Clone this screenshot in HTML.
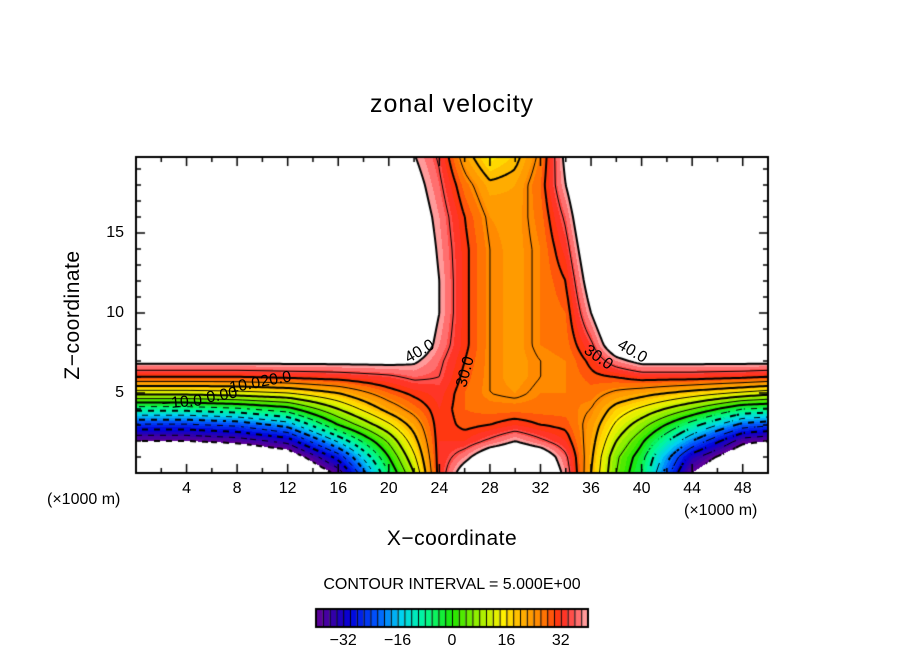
<!DOCTYPE html>
<html><head><meta charset="utf-8">
<style>
html,body{margin:0;padding:0;background:#fff;}
#wrap{position:relative;width:904px;height:654px;overflow:hidden;font-family:"Liberation Sans",sans-serif;}
.t{position:absolute;color:#000;white-space:nowrap;}
canvas{position:absolute;left:0;top:0;}
</style></head>
<body>
<div id="wrap">
<canvas id="cv" width="904" height="654"></canvas>
<div class="t" style="left:0;width:904px;text-align:center;top:90px;font-size:25px;letter-spacing:1px">zonal velocity</div>
<div class="t" style="left:0;width:904px;text-align:center;top:527px;font-size:21px;letter-spacing:0.5px">X&#8722;coordinate</div>
<div class="t" style="left:73px;top:315px;font-size:21px;transform:translate(-50%,-50%) rotate(-90deg);letter-spacing:0.5px">Z&#8722;coordinate</div>
<div class="t" style="left:47px;top:491px;font-size:16px">(×1000 m)</div>
<div class="t" style="left:684px;top:502px;font-size:16px">(×1000 m)</div>
<div class="t" style="left:0;width:904px;text-align:center;top:576px;font-size:16px">CONTOUR INTERVAL = 5.000E+00</div>
</div>
<script>
// ---- data ----
const xNodes=[0,4,8,12,16,20,22,24,26,28,30,32,34,36,38,40,44,48,50];
const zNodes=[0,1,2,3,4,5,6,7,8,10,12,14,16,18,20];
const u_z0 =[-60,-60,-60,-55,-38,-5,10,32,44,50,55,50,38,20,5,-5,-40,-55,-58];
const u_z1 =[-55,-55,-52,-46,-28,0,14,32,38,46,48,46,36,21,6,-3,-33,-48,-50];
const u_z2 =[-40,-40,-38,-33,-14,6,18,32,32,36,40,36,32,22,10,1,-20,-38,-40];
const u_z3 =[-26,-26,-24,-18,0,14,22,32,29,30,32,30,29,23,14,7,-8,-22,-24];
const u_z4 =[-8,-8,-6,-2,10,22,27,32,28,27,27,27,27,25,18,14,5,-5,-6];
const u_z5 =[12,12,13,15,20,28,31,33,28,25,24,26,26,27,24,22,18,14,12];
const u_z6 =[30,30,30,31,32,34,36,35,29,25,23,25,26,29,30,32,32,31,30];
const u_z7 =[42,42,42,42,42,42,41,36,30,25,23,25,26,31,38,42,42,42,42];
const u_z8 =[50,50,50,50,50,50,46,38,31,25,23,26,27,34,46,50,50,50,50];
const u_z10=[55,55,55,55,55,55,48,40,31,25,23,26,28,40,52,55,55,55,55];
const u_z12=[55,55,55,55,55,55,48,40,31,25,23,26,30,44,55,55,55,55,55];
const u_z14=[55,55,55,55,55,55,47,39,31,25,23,26,33,47,55,55,55,55,55];
const u_z16=[55,55,55,55,55,55,45,38,30,24,23,27,36,50,55,55,55,55,55];
const u_z18=[55,55,55,55,55,55,43,36,27,21,22,28,40,52,55,55,55,55,55];
const u_z20=[55,55,55,55,55,55,40,34,22,14,18,26,42,52,55,55,55,55,55];
const field=[u_z0,u_z1,u_z2,u_z3,u_z4,u_z5,u_z6,u_z7,u_z8,u_z10,u_z12,u_z14,u_z16,u_z18,u_z20];
const xTicks=[4,8,12,16,20,24,28,32,36,40,44,48];
const zTicks=[5,10,15];
const cbTicks=[-32,-16,0,16,32];
const contourLevels=[-40,-35,-30,-25,-20,-15,-10,-5,0,5,10,15,20,25,30,35,40];

// ---- axes ----
const L=136,R=768,T=157,B=473;
const X=x=>L+(x-0)*(R-L)/50;
const Z=z=>B-z*16;
function seg(arr,v){let i=0;while(i<arr.length-2&&v>arr[i+1])i++;return i;}
function val(x,z){
  const i=seg(xNodes,x),j=seg(zNodes,z);
  const tx=Math.max(0,Math.min(1,(x-xNodes[i])/(xNodes[i+1]-xNodes[i])));
  const tz=Math.max(0,Math.min(1,(z-zNodes[j])/(zNodes[j+1]-zNodes[j])));
  const a=field[j][i],b=field[j][i+1],c=field[j+1][i],d=field[j+1][i+1];
  return (a*(1-tx)+b*tx)*(1-tz)+(c*(1-tx)+d*tx)*tz;
}
const stops=[[-40,[100,0,150]],[-35,[50,0,170]],[-30,[0,0,220]],[-22,[0,90,255]],[-15,[0,210,240]],[-8,[0,250,150]],[0,[30,230,0]],[8,[160,240,0]],[15,[255,240,0]],[20,[255,180,0]],[26,[255,130,0]],[32,[255,40,20]],[36,[255,90,90]],[40,[255,175,175]]];
function col(v){
  if(v<-40||v>40)return null;
  v=Math.floor(v/2)*2+1;
  for(let k=0;k<stops.length-1;k++){
    const [v0,c0]=stops[k],[v1,c1]=stops[k+1];
    if(v<=v1){const t=Math.max(0,(v-v0)/(v1-v0));return c0.map((c,n)=>Math.round(c+(c1[n]-c)*t));}
  }
  return stops[stops.length-1][1];
}
const cv=document.getElementById('cv');const ctx=cv.getContext('2d');
const img=ctx.createImageData(R-L,B-T);
for(let py=0;py<B-T;py++)for(let px=0;px<R-L;px++){
  const x=(px+0.5)*50/(R-L), z=(B-(T+py+0.5))/16;
  const c=col(val(x,z)); const o=(py*(R-L)+px)*4;
  if(c){img.data[o]=c[0];img.data[o+1]=c[1];img.data[o+2]=c[2];img.data[o+3]=255;}
  else{img.data[o]=255;img.data[o+1]=255;img.data[o+2]=255;img.data[o+3]=255;}
}
ctx.putImageData(img,L,T);
// contours (marching squares)
const st=3;
ctx.save();ctx.beginPath();ctx.rect(L,T,R-L,B-T);ctx.clip();
contourLevels.forEach(lv=>{
  ctx.beginPath();
  for(let py=T;py<B;py+=st)for(let px=L;px<R;px+=st){
    if(lv<0 && (((px-L)/st+(py-T)/st)%4)>=2) continue;
    const pts=[[px,py],[px+st,py],[px+st,py+st],[px,py+st]];
    const vs=pts.map(p=>val((p[0]-L)*50/(R-L),(B-p[1])/16));
    const cr=[];
    for(let e=0;e<4;e++){const a=vs[e],b=vs[(e+1)%4];
      if((a<lv)!==(b<lv)){const t=(lv-a)/(b-a);const p=pts[e],q=pts[(e+1)%4];cr.push([p[0]+(q[0]-p[0])*t,p[1]+(q[1]-p[1])*t]);}}
    for(let k=0;k+1<cr.length;k+=2){ctx.moveTo(cr[k][0],cr[k][1]);ctx.lineTo(cr[k+1][0],cr[k+1][1]);}
  }
  ctx.strokeStyle='#000';ctx.lineWidth=(lv%10===0)?2:1;
  ctx.stroke();
});
ctx.restore();
// frame & ticks
ctx.strokeStyle='#000';ctx.lineWidth=2;ctx.strokeRect(L,T,R-L,B-T);
ctx.lineWidth=1.5;
for(let x=2;x<50;x+=2){const len=(x%4===0)?9:5;ctx.beginPath();ctx.moveTo(X(x),B);ctx.lineTo(X(x),B-len);ctx.moveTo(X(x),T);ctx.lineTo(X(x),T+len);ctx.stroke();}
for(let z=1;z<20;z++){const len=(z%5===0)?9:5;ctx.beginPath();ctx.moveTo(L,Z(z));ctx.lineTo(L+len,Z(z));ctx.moveTo(R,Z(z));ctx.lineTo(R-len,Z(z));ctx.stroke();}
// colorbar
const cbL=316,cbR=588,cbT=609,cbB=627;
const cbX=v=>cbL+(v+40)*(cbR-cbL)/80;
for(let v=-40;v<40;v+=2){const c=col(v+1);ctx.fillStyle='rgb('+c+')';ctx.fillRect(cbX(v),cbT,cbX(v+2)-cbX(v),cbB-cbT);
  ctx.fillStyle='#000';ctx.fillRect(cbX(v),cbT,1,cbB-cbT);}
ctx.lineWidth=2;ctx.strokeRect(cbL,cbT,cbR-cbL,cbB-cbT);
const wrap=document.getElementById('wrap');
function addText(txt,x,y,size,name,extra){const d=document.createElement('div');d.className='t';d.textContent=txt;
  d.style.cssText+='left:'+x+'px;top:'+y+'px;font-size:'+size+'px;'+(extra||'');
  
  
  wrap.appendChild(d);}
xTicks.forEach(t=>addText(String(t),X(t),480,16,'x-tick-label','transform:translateX(-50%);'));
zTicks.forEach(t=>addText(String(t),L-12,Z(t),16,'y-tick-label','transform:translate(-100%,-50%);'));
cbTicks.forEach(t=>addText(t<0?'\u2212'+(-t):String(t),cbX(t),632,16,'colorbar-tick-label','transform:translateX(-50%);'));
// contour labels
const labs=[['40.0',420,352,-30],['30.0',466,372,-75],['30.0',598,358,35],['40.0',632,352,30],['20.0',276,380,-10],['10.0',245,386,-10],['0.00',222,396,-10],['-10.0',182,403,-5]];
labs.forEach(l=>addText(l[0].replace('-','\u2212'),l[1],l[2],16,'contour-label','transform:translate(-50%,-50%) rotate('+l[3]+'deg);'));
</script>
</body></html>
